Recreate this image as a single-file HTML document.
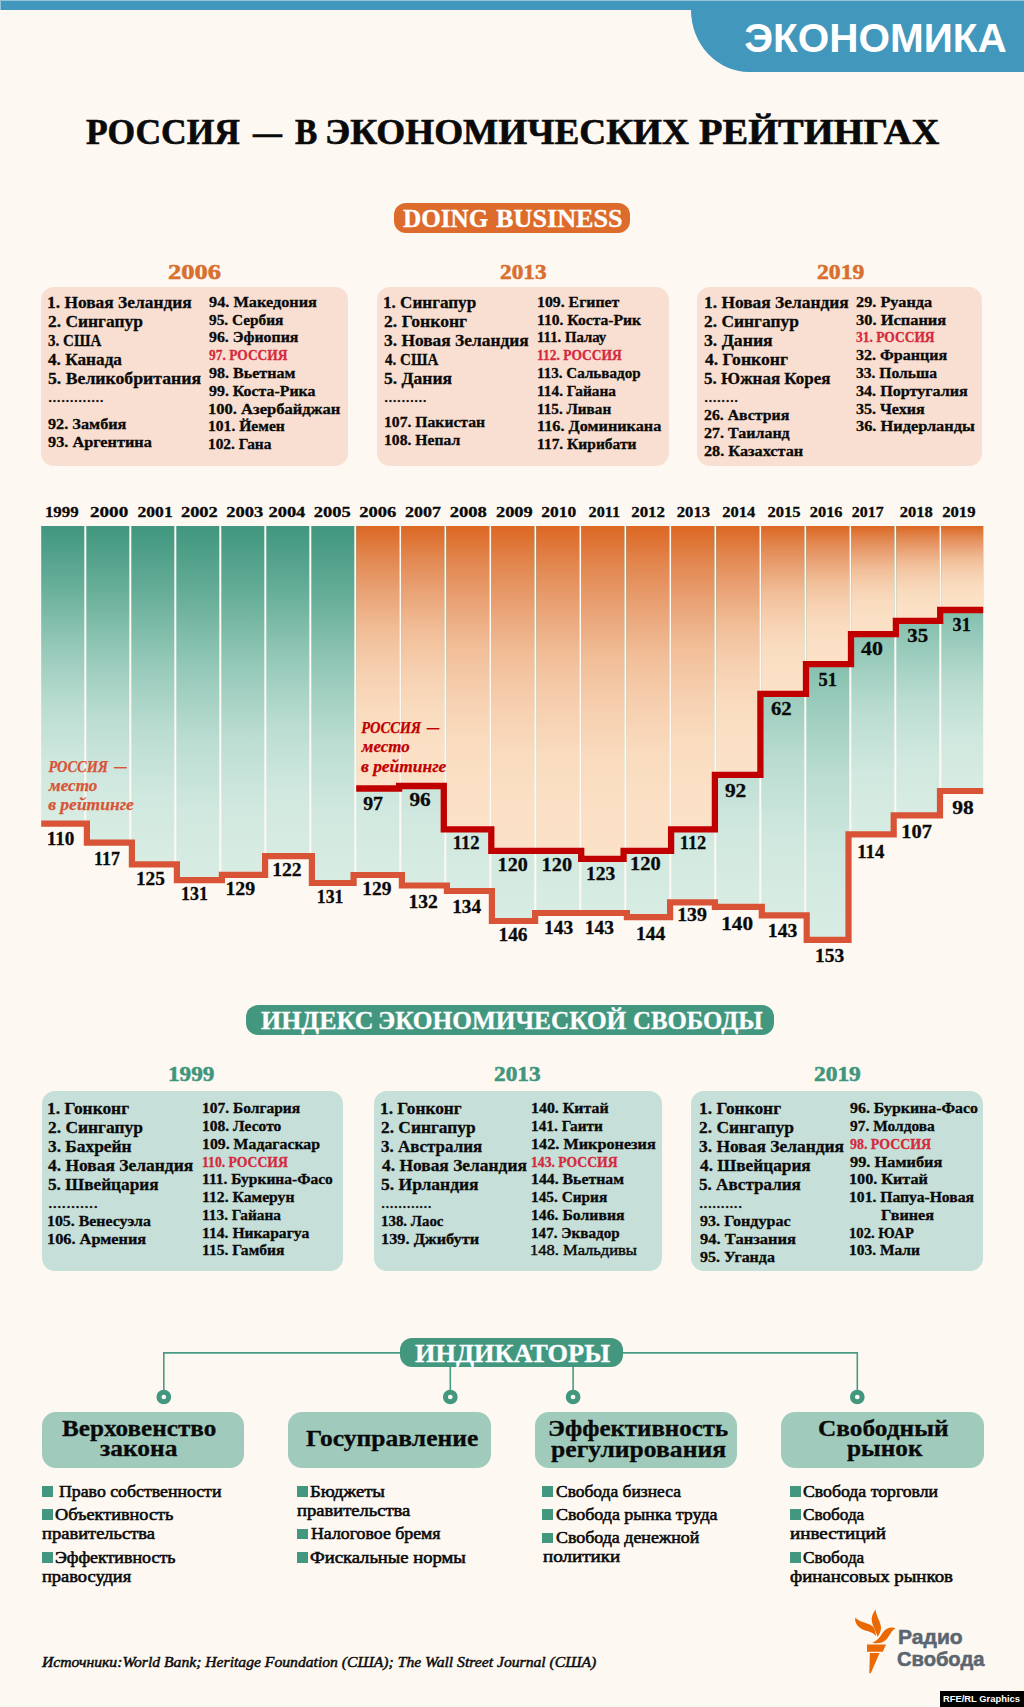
<!DOCTYPE html>
<html lang="ru">
<head>
<meta charset="utf-8">
<title>Россия — в экономических рейтингах</title>
<style>
html,body{margin:0;padding:0}
body{width:1024px;height:1707px;position:relative;overflow:hidden;background:#fdf8f2;color:#0a0a0a;font-family:"Liberation Serif","DejaVu Serif",serif;font-weight:700;-webkit-text-stroke:0.3px}
h1,h2,h3,h4,ul,li,p{margin:0;padding:0;font-weight:inherit;font-size:inherit;list-style:none}
.t,.abs{position:absolute;white-space:nowrap;transform-origin:0 50%}
.bar{position:absolute;left:0;top:0;width:1024px;height:10px;background:#4297bd}
.tab{position:absolute;left:691px;top:0;width:333px;height:71.5px;background:#4297bd;border-bottom-left-radius:58px 62px}
.ttl{-webkit-text-stroke:0.65px}
.hl{position:absolute;left:0;top:0;width:1024px;height:1px;background:#94c4d7}
.hl2{position:absolute;left:0;top:0;width:1px;height:10px;background:#94c4d7}
.sans{font-family:"Liberation Sans","DejaVu Sans",sans-serif;-webkit-text-stroke:0}
.lg{-webkit-text-stroke:0.5px}
.pill{position:absolute;border-radius:12px}
.card{position:absolute;border-radius:13px}
.peach{background:#f9dfd1}
.mint{background:#c6dfd8}
.ru{color:#d5293d}
.dots{font-weight:400;-webkit-text-stroke:0.3px}
.lt{font-weight:400;-webkit-text-stroke:0.45px}
.yr{-webkit-text-stroke:0.55px}
.ibox{position:absolute;border-radius:14px;background:#9fcabc;top:1412px;height:56.4px}
.b{position:absolute;width:10.5px;height:10.6px;background:#43977f}
.reg{font-weight:400;-webkit-text-stroke:0.55px}
.src{font-weight:400;font-style:italic;-webkit-text-stroke:0.5px}
svg{position:absolute;left:0;top:0}
</style>
</head>
<body>
<header>
<div class="bar"></div><div class="tab"></div><div class="hl"></div><div class="hl2"></div>
<div class="t sans" style="left:744.18px;top:15px;font-size:40.5px;line-height:46px;color:#fff">ЭКОНОМИКА</div>
</header>
<h1 class="ttl"> <span class="t" style="left:85.53px;top:111px;font-size:36.5px;line-height:41px;transform:scaleX(0.9718)">РОССИЯ</span> <span class="t" style="left:252.77px;top:111px;font-size:36.5px;line-height:41px;transform:scaleX(0.7936)">—</span> <span class="t" style="left:295.07px;top:111px;font-size:36.5px;line-height:41px;transform:scaleX(0.9154)">В</span> <span class="t" style="left:325.25px;top:111px;font-size:36.5px;line-height:41px;transform:scaleX(1.0193)">ЭКОНОМИЧЕСКИХ</span> <span class="t" style="left:699.38px;top:111px;font-size:36.5px;line-height:41px;transform:scaleX(1.0536)">РЕЙТИНГАХ</span> </h1>
<section>
<div class="pill" style="left:394px;top:203.3px;width:235.6px;height:29.3px;background:#dc6b2c"></div>
<h2> <span class="t" style="left:402.61px;top:204px;font-size:25.5px;line-height:29px;transform:scaleX(0.9883);color:#fff">DOING</span> <span class="t" style="left:496.09px;top:204px;font-size:25.5px;line-height:29px;transform:scaleX(1.0274);color:#fff">BUSINESS</span> </h2>
<article>
<div class="card peach" style="left:40.6px;top:286.5px;width:307.1px;height:179.3px"></div>
<h3 class="t yr" style="left:167.52px;top:260px;font-size:21.5px;line-height:24px;transform:scaleX(1.2331);color:#d96f2e">2006</h3>
<ul>
<li class="t" style="left:47.12px;top:292px;font-size:17.6px;line-height:20px;transform:scaleX(0.9892)">1. Новая Зеландия</li>
<li class="t" style="left:47.77px;top:311px;font-size:17.6px;line-height:20px;transform:scaleX(0.9898)">2. Сингапур</li>
<li class="t" style="left:47.95px;top:330px;font-size:17.6px;line-height:20px;transform:scaleX(0.8549)">3. США</li>
<li class="t" style="left:48.30px;top:349px;font-size:17.6px;line-height:20px;transform:scaleX(0.9792)">4. Канада</li>
<li class="t" style="left:47.80px;top:368px;font-size:17.6px;line-height:20px;transform:scaleX(1.0065)">5. Великобритания</li>
<li class="t dots" style="left:47.74px;top:386px;font-size:17.6px;line-height:20px;transform:scaleX(0.9761)">.............</li>
<li class="t" style="left:48.06px;top:416px;font-size:15.0px;line-height:16px;transform:scaleX(1.0830)">92. Замбия</li>
<li class="t" style="left:48.06px;top:434px;font-size:15.0px;line-height:16px;transform:scaleX(1.0841)">93. Аргентина</li>
</ul>
<ul>
<li class="t" style="left:209.10px;top:294px;font-size:15.0px;line-height:16px;transform:scaleX(1.0861)">94. Македония</li>
<li class="t" style="left:209.13px;top:312px;font-size:15.0px;line-height:16px;transform:scaleX(1.0220)">95. Сербия</li>
<li class="t" style="left:209.11px;top:329px;font-size:15.0px;line-height:16px;transform:scaleX(1.0562)">96. Эфиопия</li>
<li class="t ru" style="left:209.18px;top:347px;font-size:15.0px;line-height:16px;transform:scaleX(0.8957)">97. РОССИЯ</li>
<li class="t" style="left:209.11px;top:365px;font-size:15.0px;line-height:16px;transform:scaleX(1.0694)">98. Вьетнам</li>
<li class="t" style="left:209.11px;top:383px;font-size:15.0px;line-height:16px;transform:scaleX(1.0586)">99. Коста-Рика</li>
<li class="t" style="left:208.22px;top:401px;font-size:15.0px;line-height:16px;transform:scaleX(1.1022)">100. Азербайджан</li>
<li class="t" style="left:208.30px;top:418px;font-size:15.0px;line-height:16px;transform:scaleX(1.0407)">101. Йемен</li>
<li class="t" style="left:208.32px;top:436px;font-size:15.0px;line-height:16px;transform:scaleX(1.0243)">102. Гана</li>
</ul>
</article>
<article>
<div class="card peach" style="left:377.3px;top:286.5px;width:291.5px;height:179.3px"></div>
<h3 class="t yr" style="left:500.06px;top:260px;font-size:21.5px;line-height:24px;transform:scaleX(1.0814);color:#d96f2e">2013</h3>
<ul>
<li class="t" style="left:383.45px;top:292px;font-size:17.6px;line-height:20px;transform:scaleX(0.9720)">1. Сингапур</li>
<li class="t" style="left:384.07px;top:311px;font-size:17.6px;line-height:20px">2. Гонконг</li>
<li class="t" style="left:384.17px;top:330px;font-size:17.6px;line-height:20px;transform:scaleX(0.9887)">3. Новая Зеландия</li>
<li class="t" style="left:384.63px;top:349px;font-size:17.6px;line-height:20px;transform:scaleX(0.8542)">4. США</li>
<li class="t" style="left:384.12px;top:368px;font-size:17.6px;line-height:20px;transform:scaleX(0.9964)">5. Дания</li>
<li class="t dots" style="left:384.05px;top:386px;font-size:17.6px;line-height:20px;transform:scaleX(0.9745)">..........</li>
<li class="t" style="left:383.57px;top:414px;font-size:15.0px;line-height:16px;transform:scaleX(1.0444)">107. Пакистан</li>
<li class="t" style="left:383.57px;top:432px;font-size:15.0px;line-height:16px;transform:scaleX(1.0434)">108. Непал</li>
</ul>
<ul>
<li class="t" style="left:537.29px;top:294px;font-size:15.0px;line-height:16px;transform:scaleX(1.0532)">109. Египет</li>
<li class="t" style="left:537.30px;top:312px;font-size:15.0px;line-height:16px;transform:scaleX(1.0408)">110. Коста-Рик</li>
<li class="t" style="left:537.37px;top:329px;font-size:15.0px;line-height:16px;transform:scaleX(0.9846)">111. Палау</li>
<li class="t ru" style="left:537.47px;top:347px;font-size:15.0px;line-height:16px;transform:scaleX(0.8997)">112. РОССИЯ</li>
<li class="t" style="left:537.34px;top:365px;font-size:15.0px;line-height:16px;transform:scaleX(1.0055)">113. Сальвадор</li>
<li class="t" style="left:537.32px;top:383px;font-size:15.0px;line-height:16px;transform:scaleX(1.0235)">114. Гайана</li>
<li class="t" style="left:537.34px;top:401px;font-size:15.0px;line-height:16px;transform:scaleX(1.0129)">115. Ливан</li>
<li class="t" style="left:537.25px;top:418px;font-size:15.0px;line-height:16px;transform:scaleX(1.0812)">116. Доминикана</li>
<li class="t" style="left:537.31px;top:436px;font-size:15.0px;line-height:16px;transform:scaleX(1.0323)">117. Кирибати</li>
</ul>
</article>
<article>
<div class="card peach" style="left:697.2px;top:286.5px;width:284.9px;height:179.3px"></div>
<h3 class="t yr" style="left:817.24px;top:260px;font-size:21.5px;line-height:24px;transform:scaleX(1.1008);color:#d96f2e">2019</h3>
<ul>
<li class="t" style="left:703.72px;top:292px;font-size:17.6px;line-height:20px;transform:scaleX(0.9892)">1. Новая Зеландия</li>
<li class="t" style="left:704.37px;top:311px;font-size:17.6px;line-height:20px;transform:scaleX(0.9898)">2. Сингапур</li>
<li class="t" style="left:704.45px;top:330px;font-size:17.6px;line-height:20px;transform:scaleX(1.0056)">3. Дания</li>
<li class="t" style="left:704.89px;top:349px;font-size:17.6px;line-height:20px">4. Гонконг</li>
<li class="t" style="left:704.43px;top:368px;font-size:17.6px;line-height:20px;transform:scaleX(0.9650)">5. Южная Корея</li>
<li class="t dots" style="left:704.34px;top:386px;font-size:17.6px;line-height:20px;transform:scaleX(0.9728)">........</li>
<li class="t" style="left:704.44px;top:407px;font-size:15.0px;line-height:16px;transform:scaleX(1.0533)">26. Австрия</li>
<li class="t" style="left:704.43px;top:425px;font-size:15.0px;line-height:16px;transform:scaleX(1.0656)">27. Таиланд</li>
<li class="t" style="left:704.42px;top:443px;font-size:15.0px;line-height:16px;transform:scaleX(1.0829)">28. Казахстан</li>
</ul>
<ul>
<li class="t" style="left:856.16px;top:294px;font-size:15.0px;line-height:16px;transform:scaleX(1.0846)">29. Руанда</li>
<li class="t" style="left:856.24px;top:312px;font-size:15.0px;line-height:16px;transform:scaleX(1.0950)">30. Испания</li>
<li class="t ru" style="left:856.35px;top:329px;font-size:15.0px;line-height:16px;transform:scaleX(0.8973)">31. РОССИЯ</li>
<li class="t" style="left:856.25px;top:347px;font-size:15.0px;line-height:16px;transform:scaleX(1.0693)">32. Франция</li>
<li class="t" style="left:856.27px;top:365px;font-size:15.0px;line-height:16px;transform:scaleX(1.0385)">33. Польша</li>
<li class="t" style="left:856.25px;top:383px;font-size:15.0px;line-height:16px;transform:scaleX(1.0734)">34. Португалия</li>
<li class="t" style="left:856.25px;top:401px;font-size:15.0px;line-height:16px;transform:scaleX(1.0693)">35. Чехия</li>
<li class="t" style="left:856.24px;top:418px;font-size:15.0px;line-height:16px;transform:scaleX(1.0906)">36. Нидерланды</li>
</ul>
</article>
</section>
<svg width="1024" height="1707" viewBox="0 0 1024 1707" font-family="'Liberation Serif','DejaVu Serif',serif" font-weight="700">
<defs><linearGradient id="gg" x1="0" y1="0" x2="0" y2="1"><stop offset="0" stop-color="#40967e"/><stop offset="0.2" stop-color="#67ae99"/><stop offset="0.4" stop-color="#94c8b8"/><stop offset="0.6" stop-color="#badcd1"/><stop offset="0.8" stop-color="#d0e8df"/><stop offset="1" stop-color="#d8ece3"/></linearGradient><linearGradient id="go" x1="0" y1="0" x2="0" y2="1"><stop offset="0" stop-color="#dc6723"/><stop offset="0.12" stop-color="#e28750"/><stop offset="0.25" stop-color="#e9a275"/><stop offset="0.4" stop-color="#f1be98"/><stop offset="0.55" stop-color="#f6cfaf"/><stop offset="0.7" stop-color="#f9dbbe"/><stop offset="0.85" stop-color="#fbe0c5"/><stop offset="1" stop-color="#fbe1c7"/></linearGradient></defs>
<g>
<rect x="41.2" y="526.0" width="43.1" height="297.6" fill="url(#gg)"/>
<rect x="86.3" y="526.0" width="43.0" height="316.6" fill="url(#gg)"/>
<rect x="131.3" y="526.0" width="43.0" height="338.4" fill="url(#gg)"/>
<rect x="176.3" y="526.0" width="43.0" height="354.1" fill="url(#gg)"/>
<rect x="221.3" y="526.0" width="43.0" height="348.9" fill="url(#gg)"/>
<rect x="266.3" y="526.0" width="43.0" height="330.2" fill="url(#gg)"/>
<rect x="311.3" y="526.0" width="43.0" height="357.0" fill="url(#gg)"/>
<rect x="356.3" y="526.0" width="43.0" height="349.0" fill="url(#gg)"/>
<rect x="356.3" y="526.0" width="43.0" height="262.5" fill="url(#go)"/>
<rect x="401.3" y="526.0" width="43.0" height="359.5" fill="url(#gg)"/>
<rect x="401.3" y="526.0" width="43.0" height="260.0" fill="url(#go)"/>
<rect x="446.3" y="526.0" width="43.0" height="365.0" fill="url(#gg)"/>
<rect x="446.3" y="526.0" width="43.0" height="303.4" fill="url(#go)"/>
<rect x="491.3" y="526.0" width="43.0" height="395.0" fill="url(#gg)"/>
<rect x="491.3" y="526.0" width="43.0" height="324.9" fill="url(#go)"/>
<rect x="536.3" y="526.0" width="43.0" height="387.0" fill="url(#gg)"/>
<rect x="536.3" y="526.0" width="43.0" height="324.9" fill="url(#go)"/>
<rect x="581.3" y="526.0" width="43.0" height="387.0" fill="url(#gg)"/>
<rect x="581.3" y="526.0" width="43.0" height="332.9" fill="url(#go)"/>
<rect x="626.3" y="526.0" width="43.0" height="391.2" fill="url(#gg)"/>
<rect x="626.3" y="526.0" width="43.0" height="324.9" fill="url(#go)"/>
<rect x="671.3" y="526.0" width="43.0" height="376.3" fill="url(#gg)"/>
<rect x="671.3" y="526.0" width="43.0" height="303.4" fill="url(#go)"/>
<rect x="716.3" y="526.0" width="43.0" height="380.8" fill="url(#gg)"/>
<rect x="716.3" y="526.0" width="43.0" height="248.9" fill="url(#go)"/>
<rect x="761.3" y="526.0" width="43.0" height="389.4" fill="url(#gg)"/>
<rect x="761.3" y="526.0" width="43.0" height="167.9" fill="url(#go)"/>
<rect x="806.3" y="526.0" width="43.0" height="413.9" fill="url(#gg)"/>
<rect x="806.3" y="526.0" width="43.0" height="138.2" fill="url(#go)"/>
<rect x="851.3" y="526.0" width="43.0" height="308.4" fill="url(#gg)"/>
<rect x="851.3" y="526.0" width="43.0" height="108.2" fill="url(#go)"/>
<rect x="896.3" y="526.0" width="43.0" height="289.4" fill="url(#gg)"/>
<rect x="896.3" y="526.0" width="43.0" height="94.9" fill="url(#go)"/>
<rect x="941.3" y="526.0" width="41.9" height="265.0" fill="url(#gg)"/>
<rect x="941.3" y="526.0" width="41.9" height="84.0" fill="url(#go)"/>
</g>
<path d="M41.2 823.6H86.9V842.6H131.9V864.4H176.9V880.1H221.9V874.9H265.1V856.2H311.9V883.0H353.6V875.0H401.9V885.5H446.9V891.0H491.9V921.0H535.1V913.0H626.9V917.2H670.1V902.3H714.9V906.8H761.8V915.4H806.7V939.9H848.5V834.4H893.7V815.4H940.0V791.0H983.2" fill="none" stroke="#d95436" stroke-width="6.2" stroke-linejoin="miter"/>
<path d="M356.2 788.5H399.1V786.0H443.8V829.4H491.3V850.9H581.2V858.9H623.6V850.9H671.1V829.4H714.9V774.9H760.4V693.9H806.0V664.2H851.0V634.2H895.9V620.9H940.2V610.0H983.2" fill="none" stroke="#c00000" stroke-width="6.3" stroke-linejoin="miter"/>
<g font-size="15.2" fill="#0a0a0a" stroke="#0a0a0a" stroke-width="0.3">
<text x="44.90" y="517.3" textLength="33.69" lengthAdjust="spacingAndGlyphs">1999</text>
<text x="89.94" y="517.3" textLength="38.28" lengthAdjust="spacingAndGlyphs">2000</text>
<text x="137.50" y="517.3" textLength="35.17" lengthAdjust="spacingAndGlyphs">2001</text>
<text x="180.97" y="517.3" textLength="36.81" lengthAdjust="spacingAndGlyphs">2002</text>
<text x="226.22" y="517.3" textLength="36.93" lengthAdjust="spacingAndGlyphs">2003</text>
<text x="268.47" y="517.3" textLength="36.86" lengthAdjust="spacingAndGlyphs">2004</text>
<text x="313.71" y="517.3" textLength="36.98" lengthAdjust="spacingAndGlyphs">2005</text>
<text x="359.21" y="517.3" textLength="37.09" lengthAdjust="spacingAndGlyphs">2006</text>
<text x="404.99" y="517.3" textLength="35.96" lengthAdjust="spacingAndGlyphs">2007</text>
<text x="449.71" y="517.3" textLength="37.14" lengthAdjust="spacingAndGlyphs">2008</text>
<text x="495.97" y="517.3" textLength="36.67" lengthAdjust="spacingAndGlyphs">2009</text>
<text x="541.26" y="517.3" textLength="34.90" lengthAdjust="spacingAndGlyphs">2010</text>
<text x="588.56" y="517.3" textLength="31.54" lengthAdjust="spacingAndGlyphs">2011</text>
<text x="631.28" y="517.3" textLength="33.68" lengthAdjust="spacingAndGlyphs">2012</text>
<text x="676.79" y="517.3" textLength="33.29" lengthAdjust="spacingAndGlyphs">2013</text>
<text x="722.30" y="517.3" textLength="32.99" lengthAdjust="spacingAndGlyphs">2014</text>
<text x="767.55" y="517.3" textLength="33.07" lengthAdjust="spacingAndGlyphs">2015</text>
<text x="809.81" y="517.3" textLength="32.68" lengthAdjust="spacingAndGlyphs">2016</text>
<text x="851.82" y="517.3" textLength="31.82" lengthAdjust="spacingAndGlyphs">2017</text>
<text x="899.80" y="517.3" textLength="32.94" lengthAdjust="spacingAndGlyphs">2018</text>
<text x="942.19" y="517.3" textLength="33.29" lengthAdjust="spacingAndGlyphs">2019</text>
</g>
<g font-size="18.8" fill="#0a0a0a" stroke="#0a0a0a" stroke-width="0.3">
<text x="46.71" y="844.8" textLength="27.75" lengthAdjust="spacingAndGlyphs">110</text>
<text x="94.07" y="864.5" textLength="25.88" lengthAdjust="spacingAndGlyphs">117</text>
<text x="135.95" y="884.5" textLength="29.02" lengthAdjust="spacingAndGlyphs">125</text>
<text x="181.07" y="900.3" textLength="26.87" lengthAdjust="spacingAndGlyphs">131</text>
<text x="225.41" y="895.0" textLength="29.78" lengthAdjust="spacingAndGlyphs">129</text>
<text x="272.18" y="875.8" textLength="29.40" lengthAdjust="spacingAndGlyphs">122</text>
<text x="316.83" y="902.7" textLength="26.60" lengthAdjust="spacingAndGlyphs">131</text>
<text x="362.19" y="894.5" textLength="29.24" lengthAdjust="spacingAndGlyphs">129</text>
<text x="408.43" y="907.7" textLength="29.40" lengthAdjust="spacingAndGlyphs">132</text>
<text x="452.21" y="913.1" textLength="28.88" lengthAdjust="spacingAndGlyphs">134</text>
<text x="498.45" y="941.2" textLength="29.14" lengthAdjust="spacingAndGlyphs">146</text>
<text x="543.94" y="933.8" textLength="29.24" lengthAdjust="spacingAndGlyphs">143</text>
<text x="584.69" y="933.8" textLength="29.24" lengthAdjust="spacingAndGlyphs">143</text>
<text x="635.93" y="940.1" textLength="29.41" lengthAdjust="spacingAndGlyphs">144</text>
<text x="677.16" y="921.4" textLength="29.78" lengthAdjust="spacingAndGlyphs">139</text>
<text x="721.20" y="929.9" textLength="31.79" lengthAdjust="spacingAndGlyphs">140</text>
<text x="767.82" y="937.2" textLength="29.57" lengthAdjust="spacingAndGlyphs">143</text>
<text x="815.04" y="962.3" textLength="29.24" lengthAdjust="spacingAndGlyphs">153</text>
<text x="857.30" y="857.5" textLength="27.02" lengthAdjust="spacingAndGlyphs">114</text>
<text x="901.37" y="838.4" textLength="30.65" lengthAdjust="spacingAndGlyphs">107</text>
<text x="952.31" y="813.7" textLength="21.49" lengthAdjust="spacingAndGlyphs">98</text>
<text x="363.21" y="810.0" textLength="19.79" lengthAdjust="spacingAndGlyphs">97</text>
<text x="409.42" y="805.9" textLength="21.22" lengthAdjust="spacingAndGlyphs">96</text>
<text x="452.77" y="848.9" textLength="26.77" lengthAdjust="spacingAndGlyphs">112</text>
<text x="497.64" y="870.9" textLength="30.11" lengthAdjust="spacingAndGlyphs">120</text>
<text x="541.63" y="870.9" textLength="30.38" lengthAdjust="spacingAndGlyphs">120</text>
<text x="585.94" y="879.7" textLength="29.24" lengthAdjust="spacingAndGlyphs">123</text>
<text x="630.12" y="870.2" textLength="30.65" lengthAdjust="spacingAndGlyphs">120</text>
<text x="679.78" y="848.9" textLength="26.49" lengthAdjust="spacingAndGlyphs">112</text>
<text x="724.91" y="797.0" textLength="21.40" lengthAdjust="spacingAndGlyphs">92</text>
<text x="770.98" y="715.0" textLength="20.70" lengthAdjust="spacingAndGlyphs">62</text>
<text x="818.46" y="685.8" textLength="18.51" lengthAdjust="spacingAndGlyphs">51</text>
<text x="861.13" y="655.0" textLength="21.89" lengthAdjust="spacingAndGlyphs">40</text>
<text x="907.32" y="642.2" textLength="20.86" lengthAdjust="spacingAndGlyphs">35</text>
<text x="952.62" y="630.9" textLength="18.13" lengthAdjust="spacingAndGlyphs">31</text>
</g>
<g font-size="16" font-style="italic" fill="#d95436" stroke="#d95436" stroke-width="0.25">
<text x="48.45" y="771.7" textLength="59.46" lengthAdjust="spacingAndGlyphs">РОССИЯ</text>
<text x="114.29" y="771.7" textLength="12.44" lengthAdjust="spacingAndGlyphs">—</text>
<text x="49.05" y="791.0" textLength="48.14" lengthAdjust="spacingAndGlyphs">место</text>
<text x="48.19" y="810.2" textLength="85.69" lengthAdjust="spacingAndGlyphs">в рейтинге</text>
</g>
<g font-size="16" font-style="italic" fill="#c00000" stroke="#c00000" stroke-width="0.25">
<text x="361.30" y="732.8" textLength="59.81" lengthAdjust="spacingAndGlyphs">РОССИЯ</text>
<text x="427.08" y="732.8" textLength="12.25" lengthAdjust="spacingAndGlyphs">—</text>
<text x="361.89" y="752.2" textLength="47.89" lengthAdjust="spacingAndGlyphs">место</text>
<text x="361.04" y="771.6" textLength="85.33" lengthAdjust="spacingAndGlyphs">в рейтинге</text>
</g>
</svg>
<section>
<div class="pill" style="left:246px;top:1005.3px;width:528px;height:29.3px;background:#43977f"></div>
<h2> <span class="t" style="left:261.10px;top:1007px;font-size:25.2px;line-height:27px;transform:scaleX(1.0301);color:#fff">ИНДЕКС</span> <span class="t" style="left:377.98px;top:1007px;font-size:25.2px;line-height:27px;transform:scaleX(1.0044);color:#fff">ЭКОНОМИЧЕСКОЙ</span> <span class="t" style="left:633.41px;top:1007px;font-size:25.2px;line-height:27px;transform:scaleX(0.9866);color:#fff">СВОБОДЫ</span> </h2>
<article>
<div class="card mint" style="left:42.3px;top:1090.8px;width:300.4px;height:180.6px"></div>
<h3 class="t yr" style="left:167.80px;top:1062px;font-size:21.5px;line-height:24px;transform:scaleX(1.0783);color:#3f967d">1999</h3>
<ul>
<li class="t" style="left:47.12px;top:1098px;font-size:17.6px;line-height:20px;transform:scaleX(0.9883)">1. Гонконг</li>
<li class="t" style="left:47.77px;top:1117px;font-size:17.6px;line-height:20px;transform:scaleX(0.9898)">2. Сингапур</li>
<li class="t" style="left:47.86px;top:1136px;font-size:17.6px;line-height:20px;transform:scaleX(0.9869)">3. Бахрейн</li>
<li class="t" style="left:48.29px;top:1155px;font-size:17.6px;line-height:20px;transform:scaleX(0.9925)">4. Новая Зеландия</li>
<li class="t" style="left:47.82px;top:1174px;font-size:17.6px;line-height:20px;transform:scaleX(0.9801)">5. Швейцария</li>
<li class="t dots" style="left:47.69px;top:1192px;font-size:17.6px;line-height:20px;transform:scaleX(1.0319)">...........</li>
<li class="t" style="left:47.24px;top:1213px;font-size:15.0px;line-height:16px;transform:scaleX(1.0579)">105. Венесуэла</li>
<li class="t" style="left:47.21px;top:1231px;font-size:15.0px;line-height:16px;transform:scaleX(1.0873)">106. Армения</li>
</ul>
<ul>
<li class="t" style="left:202.33px;top:1100px;font-size:15.0px;line-height:16px;transform:scaleX(1.0321)">107. Болгария</li>
<li class="t" style="left:202.33px;top:1118px;font-size:15.0px;line-height:16px;transform:scaleX(1.0368)">108. Лесото</li>
<li class="t" style="left:202.31px;top:1136px;font-size:15.0px;line-height:16px;transform:scaleX(1.0533)">109. Мадагаскар</li>
<li class="t ru" style="left:202.48px;top:1154px;font-size:15.0px;line-height:16px;transform:scaleX(0.9104)">110. РОССИЯ</li>
<li class="t" style="left:202.33px;top:1171px;font-size:15.0px;line-height:16px;transform:scaleX(1.0324)">111. Буркина-Фасо</li>
<li class="t" style="left:202.32px;top:1189px;font-size:15.0px;line-height:16px;transform:scaleX(1.0447)">112. Камерун</li>
<li class="t" style="left:202.34px;top:1207px;font-size:15.0px;line-height:16px;transform:scaleX(1.0235)">113. Гайана</li>
<li class="t" style="left:202.32px;top:1225px;font-size:15.0px;line-height:16px;transform:scaleX(1.0425)">114. Никарагуа</li>
<li class="t" style="left:202.32px;top:1242px;font-size:15.0px;line-height:16px;transform:scaleX(1.0395)">115. Гамбия</li>
</ul>
</article>
<article>
<div class="card mint" style="left:373.9px;top:1090.8px;width:288.5px;height:180.6px"></div>
<h3 class="t yr" style="left:494.36px;top:1062px;font-size:21.5px;line-height:24px;transform:scaleX(1.0814);color:#3f967d">2013</h3>
<ul>
<li class="t" style="left:380.43px;top:1098px;font-size:17.6px;line-height:20px;transform:scaleX(0.9842)">1. Гонконг</li>
<li class="t" style="left:381.07px;top:1117px;font-size:17.6px;line-height:20px;transform:scaleX(0.9863)">2. Сингапур</li>
<li class="t" style="left:381.18px;top:1136px;font-size:17.6px;line-height:20px;transform:scaleX(0.9636)">3. Австралия</li>
<li class="t" style="left:381.59px;top:1155px;font-size:17.6px;line-height:20px;transform:scaleX(0.9903)">4. Новая Зеландия</li>
<li class="t" style="left:381.11px;top:1174px;font-size:17.6px;line-height:20px;transform:scaleX(0.9960)">5. Ирландия</li>
<li class="t dots" style="left:381.05px;top:1192px;font-size:17.6px;line-height:20px;transform:scaleX(0.9627)">............</li>
<li class="t" style="left:380.62px;top:1213px;font-size:15.0px;line-height:16px;transform:scaleX(0.9943)">138. Лаос</li>
<li class="t" style="left:380.51px;top:1231px;font-size:15.0px;line-height:16px;transform:scaleX(1.0876)">139. Джибути</li>
</ul>
<ul>
<li class="t" style="left:530.62px;top:1100px;font-size:15.0px;line-height:16px;transform:scaleX(1.0592)">140. Китай</li>
<li class="t" style="left:530.67px;top:1118px;font-size:15.0px;line-height:16px;transform:scaleX(1.0210)">141. Гаити</li>
<li class="t" style="left:530.59px;top:1136px;font-size:15.0px;line-height:16px;transform:scaleX(1.0812)">142. Микронезия</li>
<li class="t ru" style="left:530.80px;top:1154px;font-size:15.0px;line-height:16px;transform:scaleX(0.9095)">143. РОССИЯ</li>
<li class="t" style="left:530.63px;top:1171px;font-size:15.0px;line-height:16px;transform:scaleX(1.0517)">144. Вьетнам</li>
<li class="t" style="left:530.66px;top:1189px;font-size:15.0px;line-height:16px;transform:scaleX(1.0214)">145. Сирия</li>
<li class="t" style="left:530.63px;top:1207px;font-size:15.0px;line-height:16px;transform:scaleX(1.0484)">146. Боливия</li>
<li class="t" style="left:530.68px;top:1225px;font-size:15.0px;line-height:16px;transform:scaleX(1.0093)">147. Эквадор</li>
<li class="t lt" style="left:530.45px;top:1242px;font-size:15.0px;line-height:16px;transform:scaleX(1.0994)">148. Мальдивы</li>
</ul>
</article>
<article>
<div class="card mint" style="left:690.6px;top:1090.8px;width:292.5px;height:180.6px"></div>
<h3 class="t yr" style="left:813.66px;top:1062px;font-size:21.5px;line-height:24px;transform:scaleX(1.0887);color:#3f967d">2019</h3>
<ul>
<li class="t" style="left:698.74px;top:1098px;font-size:17.6px;line-height:20px;transform:scaleX(0.9883)">1. Гонконг</li>
<li class="t" style="left:699.39px;top:1117px;font-size:17.6px;line-height:20px;transform:scaleX(0.9898)">2. Сингапур</li>
<li class="t" style="left:699.48px;top:1136px;font-size:17.6px;line-height:20px;transform:scaleX(0.9910)">3. Новая Зеландия</li>
<li class="t" style="left:699.92px;top:1155px;font-size:17.6px;line-height:20px;transform:scaleX(0.9818)">4. Швейцария</li>
<li class="t" style="left:699.45px;top:1174px;font-size:17.6px;line-height:20px;transform:scaleX(0.9704)">5. Австралия</li>
<li class="t dots" style="left:699.35px;top:1192px;font-size:17.6px;line-height:20px;transform:scaleX(0.9824)">..........</li>
<li class="t" style="left:699.69px;top:1213px;font-size:15.0px;line-height:16px;transform:scaleX(1.0730)">93. Гондурас</li>
<li class="t" style="left:699.68px;top:1231px;font-size:15.0px;line-height:16px;transform:scaleX(1.1010)">94. Танзания</li>
<li class="t" style="left:699.69px;top:1249px;font-size:15.0px;line-height:16px;transform:scaleX(1.0650)">95. Уганда</li>
</ul>
<ul>
<li class="t" style="left:850.11px;top:1100px;font-size:15.0px;line-height:16px;transform:scaleX(1.0593)">96. Буркина-Фасо</li>
<li class="t" style="left:850.12px;top:1118px;font-size:15.0px;line-height:16px;transform:scaleX(1.0282)">97. Молдова</li>
<li class="t ru" style="left:850.16px;top:1136px;font-size:15.0px;line-height:16px;transform:scaleX(0.9263)">98. РОССИЯ</li>
<li class="t" style="left:850.09px;top:1154px;font-size:15.0px;line-height:16px;transform:scaleX(1.0890)">99. Намибия</li>
<li class="t" style="left:849.25px;top:1171px;font-size:15.0px;line-height:16px;transform:scaleX(1.0778)">100. Китай</li>
<li class="t" style="left:849.29px;top:1189px;font-size:15.0px;line-height:16px;transform:scaleX(1.0426)">101. Папуа-Новая</li>
<li class="t" style="left:881.14px;top:1207px;font-size:15.0px;line-height:16px;transform:scaleX(1.0785)">Гвинея</li>
<li class="t" style="left:849.37px;top:1225px;font-size:15.0px;line-height:16px;transform:scaleX(0.9778)">102. ЮАР</li>
<li class="t" style="left:849.31px;top:1242px;font-size:15.0px;line-height:16px;transform:scaleX(1.0296)">103. Мали</li>
</ul>
</article>
</section>
<section>
<svg width="1024" height="1707" viewBox="0 0 1024 1707">
<g fill="none" stroke="#4a9b84" stroke-width="1.6">
<path d="M163.8 1392V1352.9H857.3V1392"/>
<path d="M450.3 1366V1392M573.1 1366V1392"/>
</g>
<g fill="#fdf8f2" stroke="#43977f" stroke-width="5">
<circle cx="163.8" cy="1397" r="4.85"/><circle cx="450.3" cy="1397" r="4.85"/><circle cx="573.1" cy="1397" r="4.85"/><circle cx="857.3" cy="1397" r="4.85"/>
</g></svg>
<div class="pill" style="left:400.1px;top:1338.3px;width:222.5px;height:28.5px;background:#43977f"></div>
<h2 class="t" style="left:414.79px;top:1339px;font-size:26px;line-height:29px;transform:scaleX(1.0129);color:#fff">ИНДИКАТОРЫ</h2>
<article>
<div class="ibox" style="left:41.6px;width:202.9px"></div>
<h3>
<span class="t" style="left:62.31px;top:1415px;font-size:23.5px;line-height:26px;transform:scaleX(1.0706)">Верховенство</span>
<span class="t" style="left:100.33px;top:1435px;font-size:23.5px;line-height:26px;transform:scaleX(1.0848)">закона</span>
</h3>
<ul>
<li><span class="b" style="left:42.2px;top:1486.0px"></span><span class="t reg" style="left:58.92px;top:1483px;font-size:16.0px;line-height:17px;transform:scaleX(1.1110)">Право собственности</span></li>
<li><span class="b" style="left:42.2px;top:1509.3px"></span><span class="t reg" style="left:55.42px;top:1506px;font-size:16.0px;line-height:17px;transform:scaleX(1.1408)">Объективность</span></li>
<li><span class="t reg" style="left:42.23px;top:1525px;font-size:16.0px;line-height:17px;transform:scaleX(1.1574)">правительства</span></li>
<li><span class="b" style="left:42.2px;top:1552.4px"></span><span class="t reg" style="left:55.16px;top:1549px;font-size:16.0px;line-height:17px;transform:scaleX(1.1231)">Эффективность</span></li>
<li><span class="t reg" style="left:42.23px;top:1568px;font-size:16.0px;line-height:17px;transform:scaleX(1.1511)">правосудия</span></li>
</ul>
</article>
<article>
<div class="ibox" style="left:288.3px;width:202.5px"></div>
<h3>
<span class="t" style="left:306.30px;top:1425px;font-size:23.5px;line-height:26px;transform:scaleX(1.0881)">Госуправление</span>
</h3>
<ul>
<li><span class="b" style="left:297.1px;top:1486.0px"></span><span class="t reg" style="left:310.49px;top:1483px;font-size:16.0px;line-height:17px;transform:scaleX(1.1678)">Бюджеты</span></li>
<li><span class="t reg" style="left:297.13px;top:1502px;font-size:16.0px;line-height:17px;transform:scaleX(1.1595)">правительства</span></li>
<li><span class="b" style="left:297.1px;top:1528.5px"></span><span class="t reg" style="left:310.52px;top:1525px;font-size:16.0px;line-height:17px;transform:scaleX(1.1129)">Налоговое бремя</span></li>
<li><span class="b" style="left:297.1px;top:1552.4px"></span><span class="t reg" style="left:310.31px;top:1549px;font-size:16.0px;line-height:17px;transform:scaleX(1.1628)">Фискальные нормы</span></li>
</ul>
</article>
<article>
<div class="ibox" style="left:534.9px;width:202.2px"></div>
<h3>
<span class="t" style="left:547.71px;top:1415px;font-size:23.5px;line-height:26px;transform:scaleX(1.0604)">Эффективность</span>
<span class="t" style="left:551.13px;top:1436px;font-size:23.5px;line-height:26px;transform:scaleX(1.0907)">регулирования</span>
</h3>
<ul>
<li><span class="b" style="left:542.4px;top:1486.0px"></span><span class="t reg" style="left:556.05px;top:1483px;font-size:16.0px;line-height:17px;transform:scaleX(1.0908)">Свобода бизнеса</span></li>
<li><span class="b" style="left:542.4px;top:1509.3px"></span><span class="t reg" style="left:556.03px;top:1506px;font-size:16.0px;line-height:17px;transform:scaleX(1.1199)">Свобода рынка труда</span></li>
<li><span class="b" style="left:542.4px;top:1532.8px"></span><span class="t reg" style="left:556.03px;top:1529px;font-size:16.0px;line-height:17px;transform:scaleX(1.1186)">Свобода денежной</span></li>
<li><span class="t reg" style="left:543.12px;top:1548px;font-size:16.0px;line-height:17px;transform:scaleX(1.1923)">политики</span></li>
</ul>
</article>
<article>
<div class="ibox" style="left:780.9px;width:202.9px"></div>
<h3>
<span class="t" style="left:818.48px;top:1415px;font-size:23.5px;line-height:26px;transform:scaleX(1.0778)">Свободный</span>
<span class="t" style="left:846.63px;top:1435px;font-size:23.5px;line-height:26px;transform:scaleX(1.0756)">рынок</span>
</h3>
<ul>
<li><span class="b" style="left:790.1px;top:1486.0px"></span><span class="t reg" style="left:803.04px;top:1483px;font-size:16.0px;line-height:17px;transform:scaleX(1.1085)">Свобода торговли</span></li>
<li><span class="b" style="left:790.1px;top:1509.3px"></span><span class="t reg" style="left:803.06px;top:1506px;font-size:16.0px;line-height:17px;transform:scaleX(1.0737)">Свобода</span></li>
<li><span class="t reg" style="left:790.12px;top:1525px;font-size:16.0px;line-height:17px;transform:scaleX(1.1930)">инвестиций</span></li>
<li><span class="b" style="left:790.1px;top:1552.4px"></span><span class="t reg" style="left:803.06px;top:1549px;font-size:16.0px;line-height:17px;transform:scaleX(1.0737)">Свобода</span></li>
<li><span class="t reg" style="left:789.74px;top:1568px;font-size:16.0px;line-height:17px;transform:scaleX(1.1775)">финансовых рынков</span></li>
</ul>
</article>
</section>
<footer>
<p class="t src" style="left:42.01px;top:1653px;font-size:15.6px;line-height:17px;transform:scaleX(1.0038)">Источники:World Bank; Heritage Foundation (США); The Wall Street Journal (США)</p>
<svg width="1024" height="1707" viewBox="0 0 1024 1707"><g fill="#ea6903"><path d="M855.25 1617.58C858.48 1622.27 868.44 1622.85 872.54 1626.37C874.88 1628.71 875.76 1632.81 876.05 1636.33C874.30 1632.81 869.61 1631.64 864.34 1630.18C858.48 1628.12 854.38 1623.44 855.25 1617.58Z"/><path d="M875.76 1609.38C875.47 1615.23 881.33 1622.27 881.04 1628.12C880.86 1632.23 878.98 1635.16 877.52 1636.91C876.93 1632.81 873.12 1627.54 871.95 1621.68C871.07 1616.99 873.12 1612.30 875.76 1609.38Z"/><path d="M895.68 1628.42C891.29 1626.37 886.02 1628.12 883.09 1632.23C880.16 1636.33 877.81 1641.02 872.25 1642.48C876.64 1644.24 882.50 1643.36 886.02 1639.84C889.53 1636.33 891.29 1629.88 895.68 1628.42Z"/><path d="M866.97 1644.53L886.02 1644.53L882.79 1651.86L866.97 1651.86Z"/><path d="M869.90 1653.03L879.57 1653.03L870.78 1673.24L869.32 1672.95Z"/></g></svg>
<div class="t sans lg" style="left:897.78px;top:1626px;font-size:20px;line-height:22px;transform:scaleX(1.0540);color:#5a6670">Радио</div>
<div class="t sans lg" style="left:896.99px;top:1648px;font-size:20px;line-height:22px;transform:scaleX(1.0064);color:#5a6670">Свобода</div>
<div class="abs" style="left:939.8px;top:1690.6px;width:84.2px;height:16.4px;background:#000"></div>
<div class="t sans" style="left:943.37px;top:1693px;font-size:9.7px;line-height:11px;transform:scaleX(0.9676);color:#fff">RFE/RL Graphics</div>
</footer>
</body>
</html>
